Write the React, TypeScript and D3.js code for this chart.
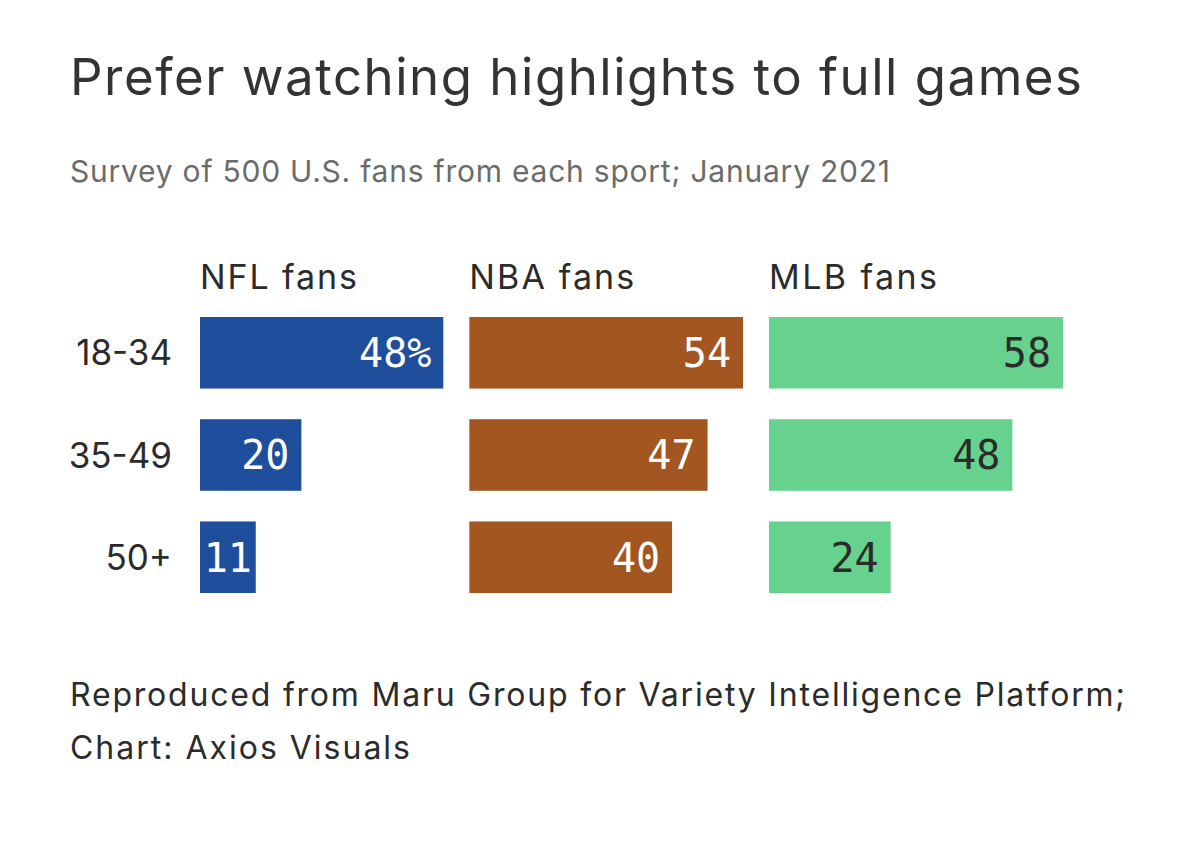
import { useRef, useEffect } from 'react';
import * as d3 from 'd3';

const WIDTH = 1200;
const HEIGHT = 850;

const AGE_GROUPS = ['18-34', '35-49', '50+'];
const SPORTS = ['NFL fans', 'NBA fans', 'MLB fans'];
const NFL_VALUES = [48, 20, 11];
const NBA_VALUES = [54, 47, 40];
const MLB_VALUES = [58, 48, 24];
const SPORT_COLORS = ['#1f4e9c', '#a3561f', '#67d18e'];
const LABEL_COLORS = ['#ffffff', '#ffffff', '#2b2b2b'];

const TITLE = 'Prefer watching highlights to full games';
const SUBTITLE = 'Survey of 500 U.S. fans from each sport; January 2021';
const FOOTER = [
  'Reproduced from Maru Group for Variety Intelligence Platform;',
  'Chart: Axios Visuals',
];

// measured widths of the reference's wider typeface, used as textLength
const HEADER_WIDTHS = [157, 165, 168];
const FOOTER_WIDTHS = [1055, 340];

const SANS = 'Inter, "Noto Sans", sans-serif';
const MONO = '"DejaVu Sans Mono", "Liberation Mono", monospace';

export default function App() {
  const svgRef = useRef<SVGSVGElement>(null);

  useEffect(() => {
    if (!svgRef.current) return;
    const svg = d3.select(svgRef.current);
    svg.selectAll('*').remove();

    svg.append('rect').attr('width', WIDTH).attr('height', HEIGHT).attr('fill', '#fff');

    // ── Header ───────────────────────────────────────────────────────────
    svg.append('text')
      .attr('x', 70).attr('y', 95)
      .attr('font-family', SANS).attr('font-size', 51)
      .attr('textLength', 1012)
      .attr('fill', '#333333')
      .text(TITLE);

    svg.append('text')
      .attr('x', 70).attr('y', 182)
      .attr('font-family', SANS).attr('font-size', 30)
      .attr('textLength', 820)
      .attr('fill', '#6b6b6b')
      .text(SUBTITLE);

    // ── Scales ───────────────────────────────────────────────────────────
    const allValues = [NFL_VALUES, NBA_VALUES, MLB_VALUES];
    const x = d3.scaleLinear().domain([0, 58]).range([0, 294]);
    const y = d3.scaleBand<string>()
      .domain(AGE_GROUPS)
      .range([317, 593])
      .paddingInner(0.3)
      .paddingOuter(0);

    // column offsets: each column as wide as its own largest bar, plus a gap
    const GAP = 26;
    const offsets: number[] = [];
    let cursor = 200;
    allValues.forEach((vals) => {
      offsets.push(cursor);
      cursor += x(d3.max(vals)!) + GAP;
    });

    // ── Row labels ───────────────────────────────────────────────────────
    svg.append('g')
      .selectAll('text')
      .data(AGE_GROUPS)
      .join('text')
      .attr('x', 172)
      .attr('y', (d) => y(d)! + y.bandwidth() / 2)
      .attr('dy', '0.36em')
      .attr('text-anchor', 'end')
      .attr('font-family', SANS).attr('font-size', 35)
      .attr('fill', '#2b2b2b')
      .text((d) => d);

    // ── Columns ──────────────────────────────────────────────────────────
    const FONT_V = 40;
    allValues.forEach((vals, ci) => {
      const g = svg.append('g').attr('transform', `translate(${offsets[ci]},0)`);

      g.append('text')
        .attr('x', 0).attr('y', 289)
        .attr('font-family', SANS).attr('font-size', 34)
        .attr('textLength', HEADER_WIDTHS[ci])
        .attr('fill', '#2b2b2b')
        .text(SPORTS[ci]);

      g.selectAll('rect')
        .data(vals)
        .join('rect')
        .attr('x', 0)
        .attr('y', (_, i) => y(AGE_GROUPS[i])!)
        .attr('width', (d) => x(d))
        .attr('height', y.bandwidth())
        .attr('fill', SPORT_COLORS[ci]);

      g.selectAll('text.val')
        .data(vals)
        .join('text')
        .attr('class', 'val')
        .attr('x', (d, i) => {
          const label = ci === 0 && i === 0 ? `${d}%` : `${d}`;
          const tw = label.length * FONT_V * 0.602;
          const pad = Math.min(12, (x(d) - tw) / 2);
          return x(d) - pad;
        })
        .attr('y', (_, i) => y(AGE_GROUPS[i])! + y.bandwidth() / 2)
        .attr('dy', '0.36em')
        .attr('text-anchor', 'end')
        .attr('font-family', MONO).attr('font-size', FONT_V)
        .attr('fill', LABEL_COLORS[ci])
        .text((d, i) => (ci === 0 && i === 0 ? `${d}%` : `${d}`));
    });

    // ── Footer ───────────────────────────────────────────────────────────
    svg.append('g')
      .selectAll('text')
      .data(FOOTER)
      .join('text')
      .attr('x', 70)
      .attr('y', (_, i) => 706 + i * 53)
      .attr('font-family', SANS).attr('font-size', 32)
      .attr('textLength', (_, i) => FOOTER_WIDTHS[i])
      .attr('fill', '#2b2b2b')
      .text((d) => d);
  }, []);

  return (
    <svg
      ref={svgRef}
      width={WIDTH}
      height={HEIGHT}
      viewBox={`0 0 ${WIDTH} ${HEIGHT}`}
      style={{ position: 'absolute', left: 0, top: 0, display: 'block' }}
    />
  );
}
